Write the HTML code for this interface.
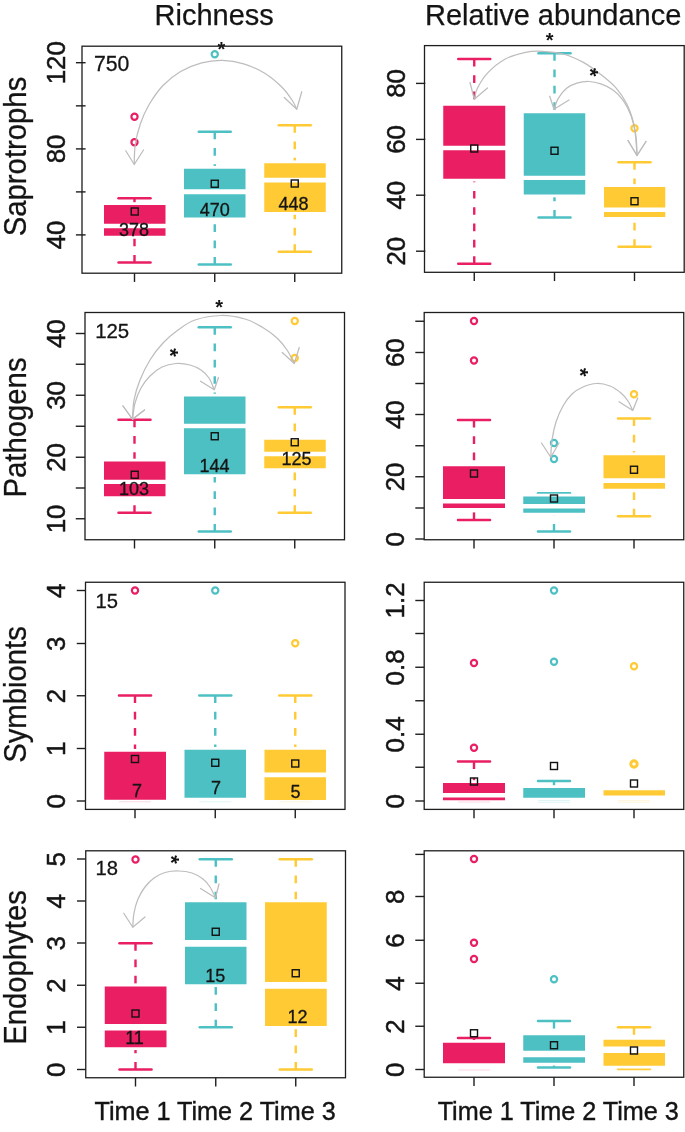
<!DOCTYPE html>
<html lang="en"><head><meta charset="utf-8"><title>Boxplots: richness and relative abundance</title>
<style>
html,body{margin:0;padding:0;background:#fff;}
body{width:685px;height:1132px;overflow:hidden;}
svg{display:block;font-family:"Liberation Sans",Arial,Helvetica,sans-serif;}
</style></head>
<body>
<svg width="685" height="1132" viewBox="0 0 685 1132">
<rect width="685" height="1132" fill="#fff"/>
<text x="214.2" y="25" text-anchor="middle" font-size="29" fill="#141414" stroke="#141414" stroke-width="0.25">Richness</text>
<text x="553.2" y="25" text-anchor="middle" font-size="29" fill="#141414" stroke="#141414" stroke-width="0.25">Relative abundance</text>
<text transform="translate(25.8,156.5) rotate(-90) scale(1,1.08)" text-anchor="middle" font-size="29.3" fill="#141414" stroke="#141414" stroke-width="0.25">Saprotrophs</text>
<line x1="75.9" y1="62.7" x2="85.6" y2="62.7" stroke="#1e1e1e" stroke-width="1.4"/>
<line x1="75.9" y1="105.85" x2="85.6" y2="105.85" stroke="#1e1e1e" stroke-width="1.4"/>
<line x1="75.9" y1="148.9" x2="85.6" y2="148.9" stroke="#1e1e1e" stroke-width="1.4"/>
<line x1="75.9" y1="191.9" x2="85.6" y2="191.9" stroke="#1e1e1e" stroke-width="1.4"/>
<line x1="75.9" y1="234.9" x2="85.6" y2="234.9" stroke="#1e1e1e" stroke-width="1.4"/>
<text transform="translate(64.5,62.7) rotate(-90) scale(1,1.025)" text-anchor="middle" font-size="25.9" fill="#141414" stroke="#141414" stroke-width="0.5">120</text>
<text transform="translate(64.5,148.95) rotate(-90) scale(1,1.025)" text-anchor="middle" font-size="25.9" fill="#141414" stroke="#141414" stroke-width="0.5">80</text>
<text transform="translate(64.5,234.95) rotate(-90) scale(1,1.025)" text-anchor="middle" font-size="25.9" fill="#141414" stroke="#141414" stroke-width="0.5">40</text>
<line x1="134.5" y1="273.2" x2="134.5" y2="281.95" stroke="#1e1e1e" stroke-width="1.4"/>
<line x1="214.75" y1="273.2" x2="214.75" y2="281.95" stroke="#1e1e1e" stroke-width="1.4"/>
<line x1="294.75" y1="273.2" x2="294.75" y2="281.95" stroke="#1e1e1e" stroke-width="1.4"/>
<line x1="134.5" y1="198.25" x2="134.5" y2="205" stroke="#E91E63" stroke-width="2.4" stroke-dasharray="7.6 8.7"/>
<line x1="118.5" y1="198.25" x2="150.5" y2="198.25" stroke="#E91E63" stroke-width="2.5" stroke-linecap="round"/>
<line x1="134.5" y1="262.5" x2="134.5" y2="235.75" stroke="#E91E63" stroke-width="2.4" stroke-dasharray="7.6 8.7"/>
<line x1="118.5" y1="262.5" x2="150.5" y2="262.5" stroke="#E91E63" stroke-width="2.5" stroke-linecap="round"/>
<rect x="101.2" y="202.2" width="67.1" height="36.35" fill="#fff"/>
<rect x="104" y="205" width="61.5" height="30.75" fill="#E91E63"/>
<rect x="103" y="223.75" width="63.5" height="4.5" fill="#fff"/>
<line x1="214.75" y1="131.75" x2="214.75" y2="168.75" stroke="#4DC0C3" stroke-width="2.4" stroke-dasharray="7.6 8.7"/>
<line x1="198.75" y1="131.75" x2="230.75" y2="131.75" stroke="#4DC0C3" stroke-width="2.5" stroke-linecap="round"/>
<line x1="214.75" y1="264.5" x2="214.75" y2="217.5" stroke="#4DC0C3" stroke-width="2.4" stroke-dasharray="7.6 8.7"/>
<line x1="198.75" y1="264.5" x2="230.75" y2="264.5" stroke="#4DC0C3" stroke-width="2.5" stroke-linecap="round"/>
<rect x="181.2" y="165.95" width="67.1" height="54.35" fill="#fff"/>
<rect x="184" y="168.75" width="61.5" height="48.75" fill="#4DC0C3"/>
<rect x="183" y="189.25" width="63.5" height="5.0" fill="#fff"/>
<line x1="294.75" y1="125.25" x2="294.75" y2="163.25" stroke="#FFCA33" stroke-width="2.4" stroke-dasharray="7.6 8.7"/>
<line x1="278.75" y1="125.25" x2="310.75" y2="125.25" stroke="#FFCA33" stroke-width="2.5" stroke-linecap="round"/>
<line x1="294.75" y1="251.75" x2="294.75" y2="212" stroke="#FFCA33" stroke-width="2.4" stroke-dasharray="7.6 8.7"/>
<line x1="278.75" y1="251.75" x2="310.75" y2="251.75" stroke="#FFCA33" stroke-width="2.5" stroke-linecap="round"/>
<rect x="261.45" y="160.45" width="67.1" height="54.35" fill="#fff"/>
<rect x="264.25" y="163.25" width="61.5" height="48.75" fill="#FFCA33"/>
<rect x="263.25" y="177.75" width="63.5" height="4.75" fill="#fff"/>
<circle cx="134.5" cy="116.75" r="3.1" fill="none" stroke="#E91E63" stroke-width="2.2"/>
<circle cx="134.5" cy="142.25" r="3.1" fill="none" stroke="#E91E63" stroke-width="2.2"/>
<circle cx="214.75" cy="54.25" r="3.1" fill="none" stroke="#4DC0C3" stroke-width="2.2"/>
<path d="M134.25,164.50 C134.41,161.25 134.19,151.75 135.20,145.00 C136.21,138.25 138.00,130.70 140.30,124.00 C142.60,117.30 145.22,111.22 149.00,104.80 C152.78,98.38 157.73,91.05 163.00,85.50 C168.27,79.95 174.17,75.28 180.60,71.50 C187.03,67.72 194.60,64.67 201.60,62.80 C208.60,60.93 215.58,60.13 222.60,60.30 C229.62,60.47 236.68,61.63 243.70,63.80 C250.72,65.97 258.32,69.38 264.70,73.30 C271.08,77.22 277.40,82.77 282.00,87.30 C286.60,91.83 289.84,96.84 292.30,100.50 C294.76,104.16 296.01,107.79 296.75,109.25" fill="none" stroke="#BFBCBC" stroke-width="1.25"/>
<path d="M125.75,150.75 L134.25,164.5 L143.5,150" fill="none" stroke="#BFBCBC" stroke-width="1.25" stroke-linejoin="round" stroke-linecap="round"/>
<path d="M284.25,97.5 L296.75,109.25 L301.75,91.75" fill="none" stroke="#BFBCBC" stroke-width="1.25" stroke-linejoin="round" stroke-linecap="round"/>
<rect x="131.25" y="208.0" width="7.0" height="7.0" fill="none" stroke="#111" stroke-width="1.4"/>
<rect x="211.25" y="180.25" width="7.0" height="7.0" fill="none" stroke="#111" stroke-width="1.4"/>
<rect x="291.25" y="180.0" width="7.0" height="7.0" fill="none" stroke="#111" stroke-width="1.4"/>
<text x="134" y="235.5" text-anchor="middle" font-size="18" fill="#141414" stroke="#141414" stroke-width="0.3">378</text>
<text x="214.75" y="215.75" text-anchor="middle" font-size="18" fill="#141414" stroke="#141414" stroke-width="0.3">470</text>
<text x="293.5" y="209.5" text-anchor="middle" font-size="18" fill="#141414" stroke="#141414" stroke-width="0.3">448</text>
<text x="94" y="70.9" font-size="21.2" fill="#141414" stroke="#141414" stroke-width="0.3">750</text>
<text x="221.5" y="56.3" text-anchor="middle" font-size="20" font-weight="bold" fill="#141414">*</text>
<rect x="82" y="46.2" width="259.75" height="227.0" fill="none" stroke="#1e1e1e" stroke-width="1.3"/>
<line x1="416" y1="83.4" x2="425.3" y2="83.4" stroke="#1e1e1e" stroke-width="1.4"/>
<line x1="416" y1="139.4" x2="425.3" y2="139.4" stroke="#1e1e1e" stroke-width="1.4"/>
<line x1="416" y1="195.2" x2="425.3" y2="195.2" stroke="#1e1e1e" stroke-width="1.4"/>
<line x1="416" y1="251.2" x2="425.3" y2="251.2" stroke="#1e1e1e" stroke-width="1.4"/>
<text transform="translate(405.0,83.45) rotate(-90) scale(1,1.025)" text-anchor="middle" font-size="25.9" fill="#141414" stroke="#141414" stroke-width="0.5">80</text>
<text transform="translate(405.0,139.45) rotate(-90) scale(1,1.025)" text-anchor="middle" font-size="25.9" fill="#141414" stroke="#141414" stroke-width="0.5">60</text>
<text transform="translate(405.0,195.2) rotate(-90) scale(1,1.025)" text-anchor="middle" font-size="25.9" fill="#141414" stroke="#141414" stroke-width="0.5">40</text>
<text transform="translate(405.0,251.2) rotate(-90) scale(1,1.025)" text-anchor="middle" font-size="25.9" fill="#141414" stroke="#141414" stroke-width="0.5">20</text>
<line x1="474.25" y1="272.3" x2="474.25" y2="281.05" stroke="#1e1e1e" stroke-width="1.4"/>
<line x1="554.5" y1="272.3" x2="554.5" y2="281.05" stroke="#1e1e1e" stroke-width="1.4"/>
<line x1="634.5" y1="272.3" x2="634.5" y2="281.05" stroke="#1e1e1e" stroke-width="1.4"/>
<line x1="474.25" y1="59" x2="474.25" y2="105.75" stroke="#E91E63" stroke-width="2.4" stroke-dasharray="7.6 8.7"/>
<line x1="458.25" y1="59" x2="490.25" y2="59" stroke="#E91E63" stroke-width="2.5" stroke-linecap="round"/>
<line x1="474.25" y1="263.75" x2="474.25" y2="178.75" stroke="#E91E63" stroke-width="2.4" stroke-dasharray="7.6 8.7"/>
<line x1="458.25" y1="263.75" x2="490.25" y2="263.75" stroke="#E91E63" stroke-width="2.5" stroke-linecap="round"/>
<rect x="440.45" y="102.95" width="67.6" height="78.6" fill="#fff"/>
<rect x="443.25" y="105.75" width="62.0" height="73.0" fill="#E91E63"/>
<rect x="442.25" y="145.75" width="64.0" height="4.5" fill="#fff"/>
<line x1="554.5" y1="53.25" x2="554.5" y2="113.25" stroke="#4DC0C3" stroke-width="2.4" stroke-dasharray="7.6 8.7"/>
<line x1="538.5" y1="53.25" x2="570.5" y2="53.25" stroke="#4DC0C3" stroke-width="2.5" stroke-linecap="round"/>
<line x1="554.5" y1="217.5" x2="554.5" y2="194.5" stroke="#4DC0C3" stroke-width="2.4" stroke-dasharray="7.6 8.7"/>
<line x1="538.5" y1="217.5" x2="570.5" y2="217.5" stroke="#4DC0C3" stroke-width="2.5" stroke-linecap="round"/>
<rect x="520.95" y="110.45" width="67.1" height="86.85" fill="#fff"/>
<rect x="523.75" y="113.25" width="61.5" height="81.25" fill="#4DC0C3"/>
<rect x="522.75" y="175.75" width="63.5" height="4.25" fill="#fff"/>
<line x1="634.5" y1="162.25" x2="634.5" y2="187" stroke="#FFCA33" stroke-width="2.4" stroke-dasharray="7.6 8.7"/>
<line x1="618.5" y1="162.25" x2="650.5" y2="162.25" stroke="#FFCA33" stroke-width="2.5" stroke-linecap="round"/>
<line x1="634.5" y1="246.75" x2="634.5" y2="217" stroke="#FFCA33" stroke-width="2.4" stroke-dasharray="7.6 8.7"/>
<line x1="618.5" y1="246.75" x2="650.5" y2="246.75" stroke="#FFCA33" stroke-width="2.5" stroke-linecap="round"/>
<rect x="601.2" y="184.2" width="66.85" height="35.6" fill="#fff"/>
<rect x="604" y="187" width="61.25" height="30" fill="#FFCA33"/>
<rect x="603" y="207.5" width="63.25" height="4.5" fill="#fff"/>
<circle cx="634.5" cy="128.25" r="3.1" fill="none" stroke="#FFCA33" stroke-width="2.2"/>
<path d="M474.25,99.25 C474.77,97.42 475.16,92.69 477.40,88.30 C479.64,83.91 483.12,77.75 487.70,72.90 C492.28,68.05 498.60,62.63 504.90,59.20 C511.20,55.77 519.22,53.62 525.50,52.30 C531.78,50.98 536.32,51.02 542.60,51.30 C548.88,51.58 556.33,52.12 563.20,54.00 C570.07,55.88 577.52,59.17 583.80,62.60 C590.08,66.03 595.47,70.32 600.90,74.60 C606.33,78.88 612.10,83.43 616.40,88.30 C620.70,93.17 623.85,98.08 626.70,103.80 C629.55,109.52 631.90,116.60 633.50,122.60 C635.10,128.60 635.72,134.32 636.30,139.80 C636.88,145.28 636.88,152.88 637.00,155.50" fill="none" stroke="#BFBCBC" stroke-width="1.25"/>
<path d="M470,82.5 L474.25,99.25 L487.5,88" fill="none" stroke="#BFBCBC" stroke-width="1.25" stroke-linejoin="round" stroke-linecap="round"/>
<path d="M628,140.5 L637,155.5 L646,141.5" fill="none" stroke="#BFBCBC" stroke-width="1.25" stroke-linejoin="round" stroke-linecap="round"/>
<path d="M554.00,109.25 C554.68,107.47 556.00,102.09 558.10,98.60 C560.20,95.11 563.47,90.87 566.60,88.30 C569.73,85.73 573.18,84.33 576.90,83.20 C580.62,82.07 584.90,81.38 588.90,81.50 C592.90,81.62 596.88,82.48 600.90,83.90 C604.92,85.32 609.28,87.27 613.00,90.00 C616.72,92.73 620.18,96.00 623.20,100.30 C626.22,104.60 629.10,110.37 631.10,115.80 C633.10,121.23 634.22,126.28 635.20,132.90 C636.18,139.52 636.70,151.73 637.00,155.50" fill="none" stroke="#BFBCBC" stroke-width="1.25"/>
<path d="M549.75,96.25 L554,109.25 L569,100" fill="none" stroke="#BFBCBC" stroke-width="1.25" stroke-linejoin="round" stroke-linecap="round"/>
<path d="M628,140.5 L637,155.5 L646,141.5" fill="none" stroke="#BFBCBC" stroke-width="1.25" stroke-linejoin="round" stroke-linecap="round"/>
<rect x="470.75" y="145.0" width="7.0" height="7.0" fill="none" stroke="#111" stroke-width="1.4"/>
<rect x="551.0" y="147.25" width="7.0" height="7.0" fill="none" stroke="#111" stroke-width="1.4"/>
<rect x="631.0" y="197.75" width="7.0" height="7.0" fill="none" stroke="#111" stroke-width="1.4"/>
<text x="549.6" y="46.7" text-anchor="middle" font-size="20" font-weight="bold" fill="#141414">*</text>
<text transform="translate(593.7,72.2) rotate(90)" x="0" y="11.0" text-anchor="middle" font-size="22" font-weight="bold" fill="#141414">*</text>
<rect x="424.5" y="45.6" width="259.70000000000005" height="226.70000000000002" fill="none" stroke="#1e1e1e" stroke-width="1.3"/>
<text transform="translate(25.8,427.5) rotate(-90) scale(1,1.08)" text-anchor="middle" font-size="29.3" fill="#141414" stroke="#141414" stroke-width="0.25">Pathogens</text>
<line x1="75.75" y1="333.5" x2="85" y2="333.5" stroke="#1e1e1e" stroke-width="1.4"/>
<line x1="75.75" y1="364.25" x2="85" y2="364.25" stroke="#1e1e1e" stroke-width="1.4"/>
<line x1="75.75" y1="395.25" x2="85" y2="395.25" stroke="#1e1e1e" stroke-width="1.4"/>
<line x1="75.75" y1="426.25" x2="85" y2="426.25" stroke="#1e1e1e" stroke-width="1.4"/>
<line x1="75.75" y1="457.25" x2="85" y2="457.25" stroke="#1e1e1e" stroke-width="1.4"/>
<line x1="75.75" y1="488" x2="85" y2="488" stroke="#1e1e1e" stroke-width="1.4"/>
<line x1="75.75" y1="518.75" x2="85" y2="518.75" stroke="#1e1e1e" stroke-width="1.4"/>
<text transform="translate(64.5,333.7) rotate(-90) scale(1,1.025)" text-anchor="middle" font-size="25.9" fill="#141414" stroke="#141414" stroke-width="0.5">40</text>
<text transform="translate(64.5,395.45) rotate(-90) scale(1,1.025)" text-anchor="middle" font-size="25.9" fill="#141414" stroke="#141414" stroke-width="0.5">30</text>
<text transform="translate(64.5,457.45) rotate(-90) scale(1,1.025)" text-anchor="middle" font-size="25.9" fill="#141414" stroke="#141414" stroke-width="0.5">20</text>
<text transform="translate(64.5,518.95) rotate(-90) scale(1,1.025)" text-anchor="middle" font-size="25.9" fill="#141414" stroke="#141414" stroke-width="0.5">10</text>
<line x1="134.5" y1="539.75" x2="134.5" y2="548.5" stroke="#1e1e1e" stroke-width="1.4"/>
<line x1="214.75" y1="539.75" x2="214.75" y2="548.5" stroke="#1e1e1e" stroke-width="1.4"/>
<line x1="294.75" y1="539.75" x2="294.75" y2="548.5" stroke="#1e1e1e" stroke-width="1.4"/>
<line x1="134.5" y1="419.75" x2="134.5" y2="461.5" stroke="#E91E63" stroke-width="2.4" stroke-dasharray="7.6 8.7"/>
<line x1="118.5" y1="419.75" x2="150.5" y2="419.75" stroke="#E91E63" stroke-width="2.5" stroke-linecap="round"/>
<line x1="134.5" y1="512.75" x2="134.5" y2="496.25" stroke="#E91E63" stroke-width="2.4" stroke-dasharray="7.6 8.7"/>
<line x1="118.5" y1="512.75" x2="150.5" y2="512.75" stroke="#E91E63" stroke-width="2.5" stroke-linecap="round"/>
<rect x="101.2" y="458.7" width="67.1" height="40.35" fill="#fff"/>
<rect x="104" y="461.5" width="61.5" height="34.75" fill="#E91E63"/>
<rect x="103" y="479.75" width="63.5" height="4.25" fill="#fff"/>
<line x1="214.75" y1="327.25" x2="214.75" y2="396.5" stroke="#4DC0C3" stroke-width="2.4" stroke-dasharray="7.6 8.7"/>
<line x1="198.75" y1="327.25" x2="230.75" y2="327.25" stroke="#4DC0C3" stroke-width="2.5" stroke-linecap="round"/>
<line x1="214.75" y1="531.5" x2="214.75" y2="474.25" stroke="#4DC0C3" stroke-width="2.4" stroke-dasharray="7.6 8.7"/>
<line x1="198.75" y1="531.5" x2="230.75" y2="531.5" stroke="#4DC0C3" stroke-width="2.5" stroke-linecap="round"/>
<rect x="181.2" y="393.7" width="67.1" height="83.35" fill="#fff"/>
<rect x="184" y="396.5" width="61.5" height="77.75" fill="#4DC0C3"/>
<rect x="183" y="423.75" width="63.5" height="4.5" fill="#fff"/>
<line x1="294.75" y1="407.25" x2="294.75" y2="439.75" stroke="#FFCA33" stroke-width="2.4" stroke-dasharray="7.6 8.7"/>
<line x1="278.75" y1="407.25" x2="310.75" y2="407.25" stroke="#FFCA33" stroke-width="2.5" stroke-linecap="round"/>
<line x1="294.75" y1="512.75" x2="294.75" y2="468.25" stroke="#FFCA33" stroke-width="2.4" stroke-dasharray="7.6 8.7"/>
<line x1="278.75" y1="512.75" x2="310.75" y2="512.75" stroke="#FFCA33" stroke-width="2.5" stroke-linecap="round"/>
<rect x="261.45" y="436.95" width="67.1" height="34.1" fill="#fff"/>
<rect x="264.25" y="439.75" width="61.5" height="28.5" fill="#FFCA33"/>
<rect x="263.25" y="451.75" width="63.5" height="4.5" fill="#fff"/>
<circle cx="294.75" cy="321" r="3.1" fill="none" stroke="#FFCA33" stroke-width="2.2"/>
<circle cx="294.75" cy="358" r="3.1" fill="none" stroke="#FFCA33" stroke-width="2.2"/>
<path d="M132.50,419.25 C132.75,416.04 132.75,406.54 134.00,400.00 C135.25,393.46 137.33,386.67 140.00,380.00 C142.67,373.33 146.17,366.17 150.00,360.00 C153.83,353.83 158.33,348.00 163.00,343.00 C167.67,338.00 172.67,333.83 178.00,330.00 C183.33,326.17 187.83,322.42 195.00,320.00 C202.17,317.58 212.67,315.67 221.00,315.50 C229.33,315.33 238.17,317.08 245.00,319.00 C251.83,320.92 256.67,323.83 262.00,327.00 C267.33,330.17 272.83,334.17 277.00,338.00 C281.17,341.83 284.12,345.75 287.00,350.00 C289.88,354.25 293.04,361.25 294.25,363.50" fill="none" stroke="#BFBCBC" stroke-width="1.25"/>
<path d="M123,406 L132.5,419.25 L144.5,410" fill="none" stroke="#BFBCBC" stroke-width="1.25" stroke-linejoin="round" stroke-linecap="round"/>
<path d="M282.25,352.5 L294.25,363.5 L299.25,347.5" fill="none" stroke="#BFBCBC" stroke-width="1.25" stroke-linejoin="round" stroke-linecap="round"/>
<path d="M132.50,419.25 C132.92,416.54 133.58,408.21 135.00,403.00 C136.42,397.79 138.50,392.50 141.00,388.00 C143.50,383.50 146.50,379.50 150.00,376.00 C153.50,372.50 157.67,369.08 162.00,367.00 C166.33,364.92 171.33,363.83 176.00,363.50 C180.67,363.17 185.83,363.92 190.00,365.00 C194.17,366.08 197.83,367.83 201.00,370.00 C204.17,372.17 206.79,374.71 209.00,378.00 C211.21,381.29 213.38,387.79 214.25,389.75" fill="none" stroke="#BFBCBC" stroke-width="1.25"/>
<path d="M123,406 L132.5,419.25 L144.5,410" fill="none" stroke="#BFBCBC" stroke-width="1.25" stroke-linejoin="round" stroke-linecap="round"/>
<path d="M200.5,381.25 L214.25,389.75 L218.5,377.5" fill="none" stroke="#BFBCBC" stroke-width="1.25" stroke-linejoin="round" stroke-linecap="round"/>
<rect x="131.25" y="471.25" width="7.0" height="7.0" fill="none" stroke="#111" stroke-width="1.4"/>
<rect x="211.25" y="432.75" width="7.0" height="7.0" fill="none" stroke="#111" stroke-width="1.4"/>
<rect x="291.25" y="438.75" width="7.0" height="7.0" fill="none" stroke="#111" stroke-width="1.4"/>
<text x="134" y="495" text-anchor="middle" font-size="18" fill="#141414" stroke="#141414" stroke-width="0.3">103</text>
<text x="214.5" y="472.25" text-anchor="middle" font-size="18" fill="#141414" stroke="#141414" stroke-width="0.3">144</text>
<text x="296.5" y="465" text-anchor="middle" font-size="18" fill="#141414" stroke="#141414" stroke-width="0.3">125</text>
<text x="95.2" y="338.15" font-size="20.4" fill="#141414" stroke="#141414" stroke-width="0.3">125</text>
<text x="219.1" y="314.1" text-anchor="middle" font-size="20" font-weight="bold" fill="#141414">*</text>
<text transform="translate(174.2,352.5) rotate(90)" x="0" y="11.0" text-anchor="middle" font-size="22" font-weight="bold" fill="#141414">*</text>
<rect x="85" y="312.5" width="259.5" height="227.25" fill="none" stroke="#1e1e1e" stroke-width="1.3"/>
<line x1="415.3" y1="321.25" x2="424.2" y2="321.25" stroke="#1e1e1e" stroke-width="1.4"/>
<line x1="415.3" y1="352.5" x2="424.2" y2="352.5" stroke="#1e1e1e" stroke-width="1.4"/>
<line x1="415.3" y1="383.5" x2="424.2" y2="383.5" stroke="#1e1e1e" stroke-width="1.4"/>
<line x1="415.3" y1="414.5" x2="424.2" y2="414.5" stroke="#1e1e1e" stroke-width="1.4"/>
<line x1="415.3" y1="445.75" x2="424.2" y2="445.75" stroke="#1e1e1e" stroke-width="1.4"/>
<line x1="415.3" y1="476.75" x2="424.2" y2="476.75" stroke="#1e1e1e" stroke-width="1.4"/>
<line x1="415.3" y1="508" x2="424.2" y2="508" stroke="#1e1e1e" stroke-width="1.4"/>
<line x1="415.3" y1="539" x2="424.2" y2="539" stroke="#1e1e1e" stroke-width="1.4"/>
<text transform="translate(404.0,352.7) rotate(-90) scale(1,1.025)" text-anchor="middle" font-size="25.9" fill="#141414" stroke="#141414" stroke-width="0.5">60</text>
<text transform="translate(404.0,414.7) rotate(-90) scale(1,1.025)" text-anchor="middle" font-size="25.9" fill="#141414" stroke="#141414" stroke-width="0.5">40</text>
<text transform="translate(404.0,476.95) rotate(-90) scale(1,1.025)" text-anchor="middle" font-size="25.9" fill="#141414" stroke="#141414" stroke-width="0.5">20</text>
<text transform="translate(404.0,539.2) rotate(-90) scale(1,1.025)" text-anchor="middle" font-size="25.9" fill="#141414" stroke="#141414" stroke-width="0.5">0</text>
<line x1="474" y1="539.75" x2="474" y2="548.5" stroke="#1e1e1e" stroke-width="1.4"/>
<line x1="554" y1="539.75" x2="554" y2="548.5" stroke="#1e1e1e" stroke-width="1.4"/>
<line x1="634" y1="539.75" x2="634" y2="548.5" stroke="#1e1e1e" stroke-width="1.4"/>
<line x1="474" y1="420" x2="474" y2="466.25" stroke="#E91E63" stroke-width="2.4" stroke-dasharray="7.6 8.7"/>
<line x1="458.0" y1="420" x2="490.0" y2="420" stroke="#E91E63" stroke-width="2.5" stroke-linecap="round"/>
<line x1="474" y1="520" x2="474" y2="508" stroke="#E91E63" stroke-width="2.4" stroke-dasharray="7.6 8.7"/>
<line x1="458.0" y1="520" x2="490.0" y2="520" stroke="#E91E63" stroke-width="2.5" stroke-linecap="round"/>
<rect x="440.2" y="463.45" width="67.6" height="47.35" fill="#fff"/>
<rect x="443" y="466.25" width="62" height="41.75" fill="#E91E63"/>
<rect x="442" y="499" width="64" height="4.5" fill="#fff"/>
<line x1="554" y1="493.25" x2="554" y2="496.5" stroke="#4DC0C3" stroke-width="2.4" stroke-dasharray="7.6 8.7"/>
<line x1="538.0" y1="493.25" x2="570.0" y2="493.25" stroke="#4DC0C3" stroke-width="2.5" stroke-linecap="round"/>
<line x1="554" y1="531.5" x2="554" y2="512.75" stroke="#4DC0C3" stroke-width="2.4" stroke-dasharray="7.6 8.7"/>
<line x1="538.0" y1="531.5" x2="570.0" y2="531.5" stroke="#4DC0C3" stroke-width="2.5" stroke-linecap="round"/>
<rect x="520.45" y="493.7" width="67.35" height="21.85" fill="#fff"/>
<rect x="523.25" y="496.5" width="61.75" height="16.25" fill="#4DC0C3"/>
<rect x="522.25" y="504" width="63.75" height="4.5" fill="#fff"/>
<line x1="634" y1="418.5" x2="634" y2="455.25" stroke="#FFCA33" stroke-width="2.4" stroke-dasharray="7.6 8.7"/>
<line x1="618.0" y1="418.5" x2="650.0" y2="418.5" stroke="#FFCA33" stroke-width="2.5" stroke-linecap="round"/>
<line x1="634" y1="516.25" x2="634" y2="488.75" stroke="#FFCA33" stroke-width="2.4" stroke-dasharray="7.6 8.7"/>
<line x1="618.0" y1="516.25" x2="650.0" y2="516.25" stroke="#FFCA33" stroke-width="2.5" stroke-linecap="round"/>
<rect x="600.7" y="452.45" width="67.1" height="39.1" fill="#fff"/>
<rect x="603.5" y="455.25" width="61.5" height="33.5" fill="#FFCA33"/>
<rect x="602.5" y="478.25" width="63.5" height="4.75" fill="#fff"/>
<circle cx="474" cy="321" r="3.1" fill="none" stroke="#E91E63" stroke-width="2.2"/>
<circle cx="474" cy="360.5" r="3.1" fill="none" stroke="#E91E63" stroke-width="2.2"/>
<circle cx="554" cy="443" r="3.1" fill="none" stroke="#4DC0C3" stroke-width="2.2"/>
<circle cx="554" cy="459" r="3.1" fill="none" stroke="#4DC0C3" stroke-width="2.2"/>
<circle cx="634" cy="394.25" r="3.1" fill="none" stroke="#FFCA33" stroke-width="2.2"/>
<path d="M550.75,457.25 C550.96,454.38 551.12,445.88 552.00,440.00 C552.88,434.12 554.17,427.67 556.00,422.00 C557.83,416.33 560.33,410.67 563.00,406.00 C565.67,401.33 568.67,397.17 572.00,394.00 C575.33,390.83 578.92,388.75 583.00,387.00 C587.08,385.25 592.00,383.67 596.50,383.50 C601.00,383.33 605.92,384.42 610.00,386.00 C614.08,387.58 618.00,390.50 621.00,393.00 C624.00,395.50 626.04,398.08 628.00,401.00 C629.96,403.92 631.96,408.92 632.75,410.50" fill="none" stroke="#BFBCBC" stroke-width="1.25"/>
<path d="M541.5,443 L550.75,457.25 L559,443" fill="none" stroke="#BFBCBC" stroke-width="1.25" stroke-linejoin="round" stroke-linecap="round"/>
<path d="M619,401.75 L632.75,410.5 L637.75,398" fill="none" stroke="#BFBCBC" stroke-width="1.25" stroke-linejoin="round" stroke-linecap="round"/>
<rect x="470.5" y="470.0" width="7.0" height="7.0" fill="none" stroke="#111" stroke-width="1.4"/>
<rect x="550.5" y="495.0" width="7.0" height="7.0" fill="none" stroke="#111" stroke-width="1.4"/>
<rect x="630.5" y="466.25" width="7.0" height="7.0" fill="none" stroke="#111" stroke-width="1.4"/>
<text transform="translate(583.75,372.25) rotate(90)" x="0" y="11.0" text-anchor="middle" font-size="22" font-weight="bold" fill="#141414">*</text>
<rect x="424.2" y="312.5" width="259.55" height="227.25" fill="none" stroke="#1e1e1e" stroke-width="1.3"/>
<text transform="translate(25.8,694.5) rotate(-90) scale(1,1.08)" text-anchor="middle" font-size="29.3" fill="#141414" stroke="#141414" stroke-width="0.25">Symbionts</text>
<line x1="76.75" y1="590.5" x2="85.5" y2="590.5" stroke="#1e1e1e" stroke-width="1.4"/>
<line x1="76.75" y1="643.5" x2="85.5" y2="643.5" stroke="#1e1e1e" stroke-width="1.4"/>
<line x1="76.75" y1="695.75" x2="85.5" y2="695.75" stroke="#1e1e1e" stroke-width="1.4"/>
<line x1="76.75" y1="748.5" x2="85.5" y2="748.5" stroke="#1e1e1e" stroke-width="1.4"/>
<line x1="76.75" y1="801" x2="85.5" y2="801" stroke="#1e1e1e" stroke-width="1.4"/>
<text transform="translate(64.5,590.7) rotate(-90) scale(1,1.025)" text-anchor="middle" font-size="25.9" fill="#141414" stroke="#141414" stroke-width="0.5">4</text>
<text transform="translate(64.5,643.7) rotate(-90) scale(1,1.025)" text-anchor="middle" font-size="25.9" fill="#141414" stroke="#141414" stroke-width="0.5">3</text>
<text transform="translate(64.5,695.95) rotate(-90) scale(1,1.025)" text-anchor="middle" font-size="25.9" fill="#141414" stroke="#141414" stroke-width="0.5">2</text>
<text transform="translate(64.5,748.7) rotate(-90) scale(1,1.025)" text-anchor="middle" font-size="25.9" fill="#141414" stroke="#141414" stroke-width="0.5">1</text>
<text transform="translate(64.5,801.2) rotate(-90) scale(1,1.025)" text-anchor="middle" font-size="25.9" fill="#141414" stroke="#141414" stroke-width="0.5">0</text>
<line x1="135" y1="809.4" x2="135" y2="818.15" stroke="#1e1e1e" stroke-width="1.4"/>
<line x1="215.25" y1="809.4" x2="215.25" y2="818.15" stroke="#1e1e1e" stroke-width="1.4"/>
<line x1="295.25" y1="809.4" x2="295.25" y2="818.15" stroke="#1e1e1e" stroke-width="1.4"/>
<line x1="135" y1="695.5" x2="135" y2="751.75" stroke="#E91E63" stroke-width="2.4" stroke-dasharray="7.6 8.7"/>
<line x1="119.0" y1="695.5" x2="151.0" y2="695.5" stroke="#E91E63" stroke-width="2.5" stroke-linecap="round"/>
<rect x="101.45" y="748.95" width="67.35" height="53.6" fill="#fff"/>
<rect x="104.25" y="751.75" width="61.75" height="48.0" fill="#E91E63"/>
<line x1="119.0" y1="801.75" x2="151.0" y2="801.75" stroke="#E91E63" stroke-width="0.8" opacity="0.22"/>
<line x1="215.25" y1="695.5" x2="215.25" y2="749.75" stroke="#4DC0C3" stroke-width="2.4" stroke-dasharray="7.6 8.7"/>
<line x1="199.25" y1="695.5" x2="231.25" y2="695.5" stroke="#4DC0C3" stroke-width="2.5" stroke-linecap="round"/>
<rect x="181.7" y="746.95" width="67.1" height="53.6" fill="#fff"/>
<rect x="184.5" y="749.75" width="61.5" height="48.0" fill="#4DC0C3"/>
<line x1="199.25" y1="801.75" x2="231.25" y2="801.75" stroke="#4DC0C3" stroke-width="0.8" opacity="0.22"/>
<line x1="295.25" y1="695.5" x2="295.25" y2="749.75" stroke="#FFCA33" stroke-width="2.4" stroke-dasharray="7.6 8.7"/>
<line x1="279.25" y1="695.5" x2="311.25" y2="695.5" stroke="#FFCA33" stroke-width="2.5" stroke-linecap="round"/>
<rect x="261.7" y="746.95" width="67.1" height="55.85" fill="#fff"/>
<rect x="264.5" y="749.75" width="61.5" height="50.25" fill="#FFCA33"/>
<rect x="263.5" y="772.5" width="63.5" height="4.75" fill="#fff"/>
<line x1="279.25" y1="801.75" x2="311.25" y2="801.75" stroke="#FFCA33" stroke-width="0.8" opacity="0.22"/>
<circle cx="135" cy="590.5" r="3.1" fill="none" stroke="#E91E63" stroke-width="2.2"/>
<circle cx="215.25" cy="590.5" r="3.1" fill="none" stroke="#4DC0C3" stroke-width="2.2"/>
<circle cx="295.25" cy="643.25" r="3.1" fill="none" stroke="#FFCA33" stroke-width="2.2"/>
<rect x="131.5" y="755.5" width="7.0" height="7.0" fill="none" stroke="#111" stroke-width="1.4"/>
<rect x="211.75" y="759.25" width="7.0" height="7.0" fill="none" stroke="#111" stroke-width="1.4"/>
<rect x="291.75" y="760.0" width="7.0" height="7.0" fill="none" stroke="#111" stroke-width="1.4"/>
<text x="137" y="797.25" text-anchor="middle" font-size="18" fill="#141414" stroke="#141414" stroke-width="0.3">7</text>
<text x="216" y="793.5" text-anchor="middle" font-size="18" fill="#141414" stroke="#141414" stroke-width="0.3">7</text>
<text x="295.5" y="797.75" text-anchor="middle" font-size="18" fill="#141414" stroke="#141414" stroke-width="0.3">5</text>
<text x="95.5" y="607.9" font-size="20.2" fill="#141414" stroke="#141414" stroke-width="0.3">15</text>
<rect x="85.5" y="582.25" width="259.5" height="227.14999999999998" fill="none" stroke="#1e1e1e" stroke-width="1.3"/>
<line x1="415.3" y1="600.5" x2="424.2" y2="600.5" stroke="#1e1e1e" stroke-width="1.4"/>
<line x1="415.3" y1="633.5" x2="424.2" y2="633.5" stroke="#1e1e1e" stroke-width="1.4"/>
<line x1="415.3" y1="667.25" x2="424.2" y2="667.25" stroke="#1e1e1e" stroke-width="1.4"/>
<line x1="415.3" y1="700.75" x2="424.2" y2="700.75" stroke="#1e1e1e" stroke-width="1.4"/>
<line x1="415.3" y1="734.25" x2="424.2" y2="734.25" stroke="#1e1e1e" stroke-width="1.4"/>
<line x1="415.3" y1="767.25" x2="424.2" y2="767.25" stroke="#1e1e1e" stroke-width="1.4"/>
<line x1="415.3" y1="801" x2="424.2" y2="801" stroke="#1e1e1e" stroke-width="1.4"/>
<text transform="translate(404.0,600.45) rotate(-90) scale(1,1.025)" text-anchor="middle" font-size="25.9" fill="#141414" stroke="#141414" stroke-width="0.5">1.2</text>
<text transform="translate(404.0,667.45) rotate(-90) scale(1,1.025)" text-anchor="middle" font-size="25.9" fill="#141414" stroke="#141414" stroke-width="0.5">0.8</text>
<text transform="translate(404.0,734.45) rotate(-90) scale(1,1.025)" text-anchor="middle" font-size="25.9" fill="#141414" stroke="#141414" stroke-width="0.5">0.4</text>
<text transform="translate(404.0,801.2) rotate(-90) scale(1,1.025)" text-anchor="middle" font-size="25.9" fill="#141414" stroke="#141414" stroke-width="0.5">0</text>
<line x1="474" y1="809.4" x2="474" y2="818.15" stroke="#1e1e1e" stroke-width="1.4"/>
<line x1="554" y1="809.4" x2="554" y2="818.15" stroke="#1e1e1e" stroke-width="1.4"/>
<line x1="634" y1="809.4" x2="634" y2="818.15" stroke="#1e1e1e" stroke-width="1.4"/>
<line x1="474" y1="761.5" x2="474" y2="783" stroke="#E91E63" stroke-width="2.4" stroke-dasharray="7.6 8.7"/>
<line x1="458.0" y1="761.5" x2="490.0" y2="761.5" stroke="#E91E63" stroke-width="2.5" stroke-linecap="round"/>
<rect x="440.2" y="780.2" width="67.6" height="22.85" fill="#fff"/>
<rect x="443" y="783" width="62" height="17.25" fill="#E91E63"/>
<rect x="442" y="793" width="64" height="4.5" fill="#fff"/>
<line x1="458.0" y1="802" x2="490.0" y2="802" stroke="#E91E63" stroke-width="0.8" opacity="0.22"/>
<line x1="554" y1="781" x2="554" y2="788" stroke="#4DC0C3" stroke-width="2.4" stroke-dasharray="7.6 8.7"/>
<line x1="538.0" y1="781" x2="570.0" y2="781" stroke="#4DC0C3" stroke-width="2.5" stroke-linecap="round"/>
<rect x="520.45" y="785.2" width="67.35" height="15.35" fill="#fff"/>
<rect x="523.25" y="788" width="61.75" height="9.75" fill="#4DC0C3"/>
<line x1="538.0" y1="800.5" x2="570.0" y2="800.5" stroke="#4DC0C3" stroke-width="0.8" opacity="0.22"/>
<line x1="538.0" y1="802.25" x2="570.0" y2="802.25" stroke="#4DC0C3" stroke-width="0.8" opacity="0.22"/>
<rect x="600.7" y="787.45" width="67.1" height="10.85" fill="#fff"/>
<rect x="603.5" y="790.25" width="61.5" height="5.25" fill="#FFCA33"/>
<line x1="618.0" y1="800.5" x2="650.0" y2="800.5" stroke="#FFCA33" stroke-width="0.8" opacity="0.22"/>
<line x1="618.0" y1="802.25" x2="650.0" y2="802.25" stroke="#FFCA33" stroke-width="0.8" opacity="0.22"/>
<circle cx="474" cy="663" r="3.1" fill="none" stroke="#E91E63" stroke-width="2.2"/>
<circle cx="474" cy="747.75" r="3.1" fill="none" stroke="#E91E63" stroke-width="2.2"/>
<circle cx="554" cy="590.5" r="3.1" fill="none" stroke="#4DC0C3" stroke-width="2.2"/>
<circle cx="554" cy="661.75" r="3.1" fill="none" stroke="#4DC0C3" stroke-width="2.2"/>
<circle cx="634" cy="666.25" r="3.1" fill="none" stroke="#FFCA33" stroke-width="2.2"/>
<circle cx="634" cy="764" r="3.2" fill="none" stroke="#FFCA33" stroke-width="3.0"/>
<rect x="470.5" y="778.0" width="7.0" height="7.0" fill="none" stroke="#111" stroke-width="1.4"/>
<rect x="550.5" y="762.5" width="7.0" height="7.0" fill="none" stroke="#111" stroke-width="1.4"/>
<rect x="630.5" y="780.0" width="7.0" height="7.0" fill="none" stroke="#111" stroke-width="1.4"/>
<rect x="424.2" y="582.25" width="259.55" height="227.14999999999998" fill="none" stroke="#1e1e1e" stroke-width="1.3"/>
<text transform="translate(25.8,967.5) rotate(-90) scale(1,1.08)" text-anchor="middle" font-size="29.3" fill="#141414" stroke="#141414" stroke-width="0.25">Endophytes</text>
<line x1="77" y1="859" x2="85.75" y2="859" stroke="#1e1e1e" stroke-width="1.4"/>
<line x1="77" y1="901" x2="85.75" y2="901" stroke="#1e1e1e" stroke-width="1.4"/>
<line x1="77" y1="943" x2="85.75" y2="943" stroke="#1e1e1e" stroke-width="1.4"/>
<line x1="77" y1="985.25" x2="85.75" y2="985.25" stroke="#1e1e1e" stroke-width="1.4"/>
<line x1="77" y1="1027.25" x2="85.75" y2="1027.25" stroke="#1e1e1e" stroke-width="1.4"/>
<line x1="77" y1="1069.5" x2="85.75" y2="1069.5" stroke="#1e1e1e" stroke-width="1.4"/>
<text transform="translate(64.5,859.2) rotate(-90) scale(1,1.025)" text-anchor="middle" font-size="25.9" fill="#141414" stroke="#141414" stroke-width="0.5">5</text>
<text transform="translate(64.5,901.2) rotate(-90) scale(1,1.025)" text-anchor="middle" font-size="25.9" fill="#141414" stroke="#141414" stroke-width="0.5">4</text>
<text transform="translate(64.5,943.2) rotate(-90) scale(1,1.025)" text-anchor="middle" font-size="25.9" fill="#141414" stroke="#141414" stroke-width="0.5">3</text>
<text transform="translate(64.5,985.45) rotate(-90) scale(1,1.025)" text-anchor="middle" font-size="25.9" fill="#141414" stroke="#141414" stroke-width="0.5">2</text>
<text transform="translate(64.5,1027.45) rotate(-90) scale(1,1.025)" text-anchor="middle" font-size="25.9" fill="#141414" stroke="#141414" stroke-width="0.5">1</text>
<text transform="translate(64.5,1069.7) rotate(-90) scale(1,1.025)" text-anchor="middle" font-size="25.9" fill="#141414" stroke="#141414" stroke-width="0.5">0</text>
<line x1="135.5" y1="1077.75" x2="135.5" y2="1086.5" stroke="#1e1e1e" stroke-width="1.4"/>
<line x1="215.75" y1="1077.75" x2="215.75" y2="1086.5" stroke="#1e1e1e" stroke-width="1.4"/>
<line x1="295.75" y1="1077.75" x2="295.75" y2="1086.5" stroke="#1e1e1e" stroke-width="1.4"/>
<line x1="135.5" y1="943.25" x2="135.5" y2="986.5" stroke="#E91E63" stroke-width="2.4" stroke-dasharray="7.6 8.7"/>
<line x1="119.5" y1="943.25" x2="151.5" y2="943.25" stroke="#E91E63" stroke-width="2.5" stroke-linecap="round"/>
<line x1="135.5" y1="1069.5" x2="135.5" y2="1047.25" stroke="#E91E63" stroke-width="2.4" stroke-dasharray="7.6 8.7"/>
<line x1="119.5" y1="1069.5" x2="151.5" y2="1069.5" stroke="#E91E63" stroke-width="2.5" stroke-linecap="round"/>
<rect x="101.95" y="983.7" width="67.35" height="66.35" fill="#fff"/>
<rect x="104.75" y="986.5" width="61.75" height="60.75" fill="#E91E63"/>
<rect x="103.75" y="1024" width="63.75" height="6.5" fill="#fff"/>
<line x1="215.75" y1="859.25" x2="215.75" y2="902.25" stroke="#4DC0C3" stroke-width="2.4" stroke-dasharray="7.6 8.7"/>
<line x1="199.75" y1="859.25" x2="231.75" y2="859.25" stroke="#4DC0C3" stroke-width="2.5" stroke-linecap="round"/>
<line x1="215.75" y1="1027.25" x2="215.75" y2="984.25" stroke="#4DC0C3" stroke-width="2.4" stroke-dasharray="7.6 8.7"/>
<line x1="199.75" y1="1027.25" x2="231.75" y2="1027.25" stroke="#4DC0C3" stroke-width="2.5" stroke-linecap="round"/>
<rect x="182.2" y="899.45" width="67.1" height="87.6" fill="#fff"/>
<rect x="185" y="902.25" width="61.5" height="82.0" fill="#4DC0C3"/>
<rect x="184" y="940" width="63.5" height="6.75" fill="#fff"/>
<line x1="295.75" y1="859.25" x2="295.75" y2="902.25" stroke="#FFCA33" stroke-width="2.4" stroke-dasharray="7.6 8.7"/>
<line x1="279.75" y1="859.25" x2="311.75" y2="859.25" stroke="#FFCA33" stroke-width="2.5" stroke-linecap="round"/>
<line x1="295.75" y1="1069.5" x2="295.75" y2="1026" stroke="#FFCA33" stroke-width="2.4" stroke-dasharray="7.6 8.7"/>
<line x1="279.75" y1="1069.5" x2="311.75" y2="1069.5" stroke="#FFCA33" stroke-width="2.5" stroke-linecap="round"/>
<rect x="262.2" y="899.45" width="67.35" height="129.35" fill="#fff"/>
<rect x="265" y="902.25" width="61.75" height="123.75" fill="#FFCA33"/>
<rect x="264" y="982" width="63.75" height="6.75" fill="#fff"/>
<circle cx="135.5" cy="859.5" r="3.1" fill="none" stroke="#E91E63" stroke-width="2.2"/>
<path d="M132.75,927.25 C132.96,924.88 133.12,917.71 134.00,913.00 C134.88,908.29 136.17,903.33 138.00,899.00 C139.83,894.67 142.33,890.50 145.00,887.00 C147.67,883.50 150.67,880.42 154.00,878.00 C157.33,875.58 160.92,873.67 165.00,872.50 C169.08,871.33 174.00,870.92 178.50,871.00 C183.00,871.08 187.92,871.67 192.00,873.00 C196.08,874.33 200.00,876.67 203.00,879.00 C206.00,881.33 207.92,883.88 210.00,887.00 C212.08,890.12 214.58,895.96 215.50,897.75" fill="none" stroke="#BFBCBC" stroke-width="1.25"/>
<path d="M123.75,913.25 L132.75,927.25 L145,917" fill="none" stroke="#BFBCBC" stroke-width="1.25" stroke-linejoin="round" stroke-linecap="round"/>
<path d="M200.5,888.5 L215.5,897.75 L219,884" fill="none" stroke="#BFBCBC" stroke-width="1.25" stroke-linejoin="round" stroke-linecap="round"/>
<rect x="132.0" y="1010.0" width="7.0" height="7.0" fill="none" stroke="#111" stroke-width="1.4"/>
<rect x="212.25" y="928.25" width="7.0" height="7.0" fill="none" stroke="#111" stroke-width="1.4"/>
<rect x="292.25" y="969.75" width="7.0" height="7.0" fill="none" stroke="#111" stroke-width="1.4"/>
<text x="134.5" y="1043.5" text-anchor="middle" font-size="18" fill="#141414" stroke="#141414" stroke-width="0.3">11</text>
<text x="215.25" y="981.5" text-anchor="middle" font-size="18" fill="#141414" stroke="#141414" stroke-width="0.3">15</text>
<text x="297.5" y="1023.25" text-anchor="middle" font-size="18" fill="#141414" stroke="#141414" stroke-width="0.3">12</text>
<text x="95.5" y="875.15" font-size="20.2" fill="#141414" stroke="#141414" stroke-width="0.3">18</text>
<text transform="translate(174.75,859.6) rotate(90)" x="0" y="11.0" text-anchor="middle" font-size="22" font-weight="bold" fill="#141414">*</text>
<rect x="85.75" y="850.8" width="259.75" height="226.95000000000005" fill="none" stroke="#1e1e1e" stroke-width="1.3"/>
<line x1="415.3" y1="854.4" x2="424.2" y2="854.4" stroke="#1e1e1e" stroke-width="1.4"/>
<line x1="415.3" y1="896.5" x2="424.2" y2="896.5" stroke="#1e1e1e" stroke-width="1.4"/>
<line x1="415.3" y1="940.25" x2="424.2" y2="940.25" stroke="#1e1e1e" stroke-width="1.4"/>
<line x1="415.3" y1="983.25" x2="424.2" y2="983.25" stroke="#1e1e1e" stroke-width="1.4"/>
<line x1="415.3" y1="1026.25" x2="424.2" y2="1026.25" stroke="#1e1e1e" stroke-width="1.4"/>
<line x1="415.3" y1="1069.5" x2="424.2" y2="1069.5" stroke="#1e1e1e" stroke-width="1.4"/>
<text transform="translate(404.0,896.7) rotate(-90) scale(1,1.025)" text-anchor="middle" font-size="25.9" fill="#141414" stroke="#141414" stroke-width="0.5">8</text>
<text transform="translate(404.0,940.45) rotate(-90) scale(1,1.025)" text-anchor="middle" font-size="25.9" fill="#141414" stroke="#141414" stroke-width="0.5">6</text>
<text transform="translate(404.0,983.45) rotate(-90) scale(1,1.025)" text-anchor="middle" font-size="25.9" fill="#141414" stroke="#141414" stroke-width="0.5">4</text>
<text transform="translate(404.0,1026.45) rotate(-90) scale(1,1.025)" text-anchor="middle" font-size="25.9" fill="#141414" stroke="#141414" stroke-width="0.5">2</text>
<text transform="translate(404.0,1069.7) rotate(-90) scale(1,1.025)" text-anchor="middle" font-size="25.9" fill="#141414" stroke="#141414" stroke-width="0.5">0</text>
<line x1="474" y1="1077.25" x2="474" y2="1086.0" stroke="#1e1e1e" stroke-width="1.4"/>
<line x1="554" y1="1077.25" x2="554" y2="1086.0" stroke="#1e1e1e" stroke-width="1.4"/>
<line x1="634" y1="1077.25" x2="634" y2="1086.0" stroke="#1e1e1e" stroke-width="1.4"/>
<line x1="474" y1="1038" x2="474" y2="1042.75" stroke="#E91E63" stroke-width="2.4" stroke-dasharray="7.6 8.7"/>
<line x1="458.0" y1="1038" x2="490.0" y2="1038" stroke="#E91E63" stroke-width="2.5" stroke-linecap="round"/>
<rect x="440.2" y="1039.95" width="67.6" height="26.1" fill="#fff"/>
<rect x="443" y="1042.75" width="62" height="20.5" fill="#E91E63"/>
<line x1="458.0" y1="1070" x2="490.0" y2="1070" stroke="#E91E63" stroke-width="0.8" opacity="0.22"/>
<line x1="554" y1="1021" x2="554" y2="1035.25" stroke="#4DC0C3" stroke-width="2.4" stroke-dasharray="7.6 8.7"/>
<line x1="538.0" y1="1021" x2="570.0" y2="1021" stroke="#4DC0C3" stroke-width="2.5" stroke-linecap="round"/>
<line x1="554" y1="1067.5" x2="554" y2="1062.75" stroke="#4DC0C3" stroke-width="2.4" stroke-dasharray="7.6 8.7"/>
<line x1="538.0" y1="1067.5" x2="570.0" y2="1067.5" stroke="#4DC0C3" stroke-width="2.5" stroke-linecap="round"/>
<rect x="520.45" y="1032.45" width="67.35" height="33.1" fill="#fff"/>
<rect x="523.25" y="1035.25" width="61.75" height="27.5" fill="#4DC0C3"/>
<rect x="522.25" y="1050.75" width="63.75" height="6.5" fill="#fff"/>
<line x1="634" y1="1027.25" x2="634" y2="1039.75" stroke="#FFCA33" stroke-width="2.4" stroke-dasharray="7.6 8.7"/>
<line x1="618.0" y1="1027.25" x2="650.0" y2="1027.25" stroke="#FFCA33" stroke-width="2.5" stroke-linecap="round"/>
<line x1="634" y1="1069" x2="634" y2="1065.75" stroke="#FFCA33" stroke-width="2.4" stroke-dasharray="7.6 8.7"/>
<line x1="618.0" y1="1069" x2="650.0" y2="1069" stroke="#FFCA33" stroke-width="2.5" stroke-linecap="round"/>
<rect x="600.7" y="1036.95" width="67.1" height="31.6" fill="#fff"/>
<rect x="603.5" y="1039.75" width="61.5" height="26.0" fill="#FFCA33"/>
<rect x="602.5" y="1046.5" width="63.5" height="6.5" fill="#fff"/>
<circle cx="474" cy="859" r="3.1" fill="none" stroke="#E91E63" stroke-width="2.2"/>
<circle cx="474" cy="942.75" r="3.1" fill="none" stroke="#E91E63" stroke-width="2.2"/>
<circle cx="474" cy="959" r="3.1" fill="none" stroke="#E91E63" stroke-width="2.2"/>
<circle cx="554" cy="979.25" r="3.1" fill="none" stroke="#4DC0C3" stroke-width="2.2"/>
<rect x="470.5" y="1029.75" width="7.0" height="7.0" fill="none" stroke="#111" stroke-width="1.4"/>
<rect x="550.5" y="1041.75" width="7.0" height="7.0" fill="none" stroke="#111" stroke-width="1.4"/>
<rect x="630.5" y="1047.0" width="7.0" height="7.0" fill="none" stroke="#111" stroke-width="1.4"/>
<rect x="424.2" y="850.8" width="259.55" height="226.45000000000005" fill="none" stroke="#1e1e1e" stroke-width="1.3"/>
<text x="215.1" y="1120.25" text-anchor="middle" font-size="25.2" fill="#141414" stroke="#141414" stroke-width="0.4">Time 1 Time 2 Time 3</text>
<text x="558.25" y="1120.25" text-anchor="middle" font-size="25.2" fill="#141414" stroke="#141414" stroke-width="0.4">Time 1 Time 2 Time 3</text>
</svg>
</body></html>
